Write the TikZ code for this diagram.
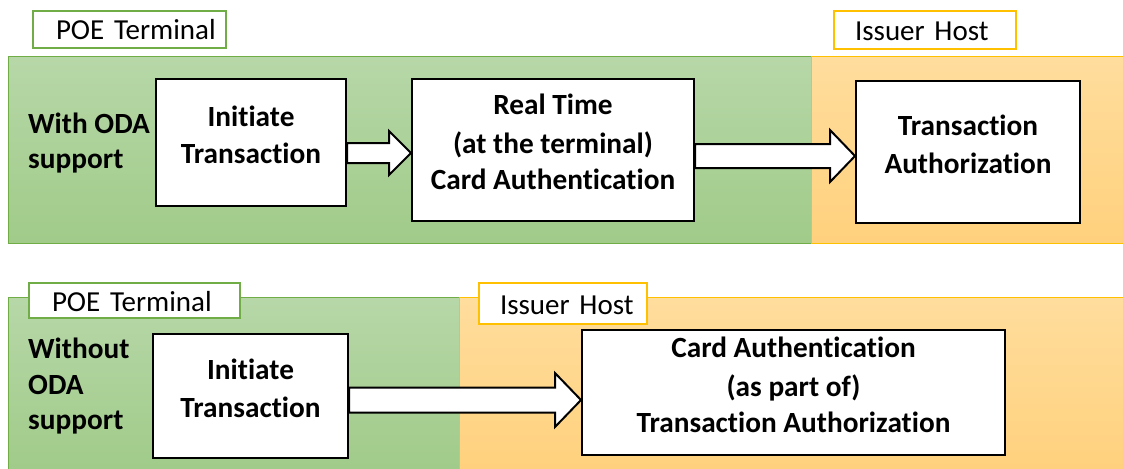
\documentclass[tikz,border=0pt]{standalone}
\usepackage{fontspec}
\setmainfont{Carlito}[Ligatures=NoCommon]
\usetikzlibrary{calc}
\definecolor{grn}{RGB}{112,173,71}
\definecolor{org}{RGB}{255,192,0}
\definecolor{grnT}{RGB}{183,215,168}
\definecolor{grnB}{RGB}{160,203,137}
\definecolor{orgT}{RGB}{255,221,157}
\definecolor{orgB}{RGB}{255,209,125}
\newcommand\lstrut{\rule[-16pt]{0pt}{36pt}}
% from node, to node, centre y, shaft half-height, head half-height, head length
\newcommand\fatarrow[6]{%
  \draw[fat] ($(#1.east|-0,#3)+(0,-#4)$) -- ($(#2.west|-0,#3)+(-#6,-#4)$)
    -- ($(#2.west|-0,#3)+(-#6,-#5)$) -- (#2.west|-0,#3)
    -- ($(#2.west|-0,#3)+(-#6,#5)$) -- ($(#2.west|-0,#3)+(-#6,#4)$)
    -- ($(#1.east|-0,#3)+(0,#4)$) -- cycle;}
\begin{document}
\begin{tikzpicture}[x=1pt,y=-1pt,
  gband/.style={line width=1pt, draw=grn, top color=grnT, bottom color=grnB},
  oband/.style={line width=1pt, draw=org, top color=orgT, bottom color=orgB},
  lbl/.style={line width=2pt, fill=white, anchor=north west, inner xsep=0pt,
    inner ysep=0pt, text height=21pt, text depth=0pt, align=left,
    font=\fontsize{29}{34}\selectfont},
  glbl/.style={lbl, draw=grn},
  olbl/.style={lbl, draw=org},
  box/.style={draw=black, line width=2pt, fill=white, anchor=north west,
    inner sep=0pt, align=center, font=\fontsize{29.3}{36}\selectfont\bfseries},
  side/.style={anchor=north west, inner sep=0pt, align=left,
    font=\fontsize{29.3}{35}\selectfont\bfseries},
  fat/.style={draw=black, line width=2pt, fill=white, line join=miter}]
\useasboundingbox (0,0) rectangle (1123,468);
% top row bands
\path[gband] (8,57) rectangle (811,243);
\path[oband] (811,57) rectangle (1126,243);
% bottom row bands
\path[gband] (8,297) rectangle (459,471);
\path[oband] (459,297) rectangle (1126,471);
% labels
\node[glbl, text width=193pt, minimum height=37pt] (poe1) at (32,10) {\hspace*{23pt}POE Terminal};
\node[olbl, text width=182pt, minimum height=38pt] (iss1) at (833,10) {\hspace*{21pt}Issuer Host};
\node[glbl, text width=211pt, minimum height=35pt] (poe2) at (28,282) {\hspace*{23pt}POE Terminal};
\node[olbl, text width=168pt, minimum height=41pt] (iss2) at (478,282) {\hspace*{21pt}Issuer Host};
% side texts
\node[side] (with) at (28,113) {\lstrut With ODA\\support};
\node[side] (without) at (28,338) {\lstrut Without\\ODA\\support};
% boxes top
\node[box, minimum width=190pt, minimum height=127pt] (i1) at (155,78) {\lstrut Initiate\\Transaction\lstrut};
\node[box, minimum width=282pt, minimum height=142pt] (rt) at (411,78) {\lstrut Real Time\\(at the terminal)\\Card Authentication\lstrut};
\node[box, minimum width=224pt, minimum height=142pt] (ta) at (855,80) {\lstrut Transaction\\Authorization\lstrut};
% boxes bottom
\node[box, minimum width=195pt, minimum height=124pt] (i2) at (152,333) {\lstrut Initiate\\Transaction\lstrut};
\node[box, minimum width=423pt, minimum height=125pt] (ca) at (581,329) {\lstrut Card Authentication\\(as part of)\\Transaction Authorization\lstrut};
% arrows
\fatarrow{i1}{rt}{153}{10}{22}{22}
\fatarrow{rt}{ta}{156}{12}{26}{25}
\fatarrow{i2}{ca}{400}{12.5}{27}{26}
\end{tikzpicture}
\end{document}
